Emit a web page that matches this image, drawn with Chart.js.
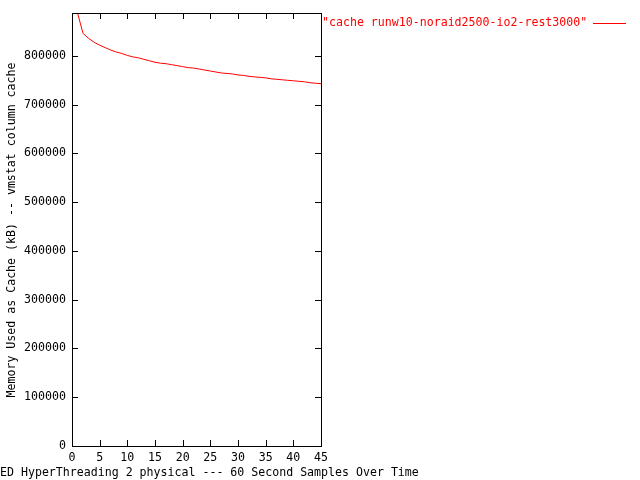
<!DOCTYPE html>
<html>
<head>
<meta charset="utf-8">
<script src="https://cdn.jsdelivr.net/npm/chart.js@4/dist/chart.umd.min.js"></script>
<style>
  html, body { margin: 0; padding: 0; background: #fff; }
  #wrap { width: 640px; height: 480px; }
</style>
</head>
<body>
<div id="wrap"><canvas id="cache-chart" width="640" height="480"></canvas></div>
<script>
// samples (minute index) and vmstat cache values in kB
const samples = [1, 2, 3, 4, 5, 6, 7, 8, 9, 10, 11, 12, 13, 14, 15, 16, 17, 18, 19, 20, 21, 22, 23,
    24, 25, 26, 27, 28, 29, 30, 31, 32, 33, 34, 35, 36, 37, 38, 39, 40, 41, 42, 43, 44, 45];
const cacheValues = [888000, 846000, 836000, 828000, 822000, 817000, 812000, 808000, 805000, 801000,
    798000, 796000, 793000, 790000, 787000, 785000, 784000, 782000, 780000, 778000,
    776000, 775000, 773000, 771000, 769000, 767000, 765000, 764000, 763000, 761000,
    760000, 758000, 757000, 756000, 755000, 753000, 752000, 751000, 750000, 749000,
    748000, 747000, 745000, 744000, 743000];
const xTicks = [0, 5, 10, 15, 20, 25, 30, 35, 40, 45];
const yTicks = [0, 100000, 200000, 300000, 400000, 500000, 600000, 700000, 800000];
const seriesLabel = '"cache runw10-noraid2500-io2-rest3000"';
const xTitle = 'ED HyperThreading 2 physical --- 60 Second Samples Over Time';
const yTitle = 'Memory Used as Cache (kB) -- vmstat column cache';

const FONT = '11.6px "DejaVu Sans Mono", "Liberation Mono", monospace';

// gnuplot style frame, inward ticks on all sides, key and titles
const gnuplotFrame = {
    id: 'gnuplotFrame',
    afterDraw(chart) {
        const ctx = chart.ctx;
        const a = chart.chartArea;
        const xs = chart.scales.x;
        const ys = chart.scales.y;
        ctx.save();
        ctx.strokeStyle = '#000';
        ctx.lineWidth = 1;
        ctx.strokeRect(Math.round(a.left) + 0.5, Math.round(a.top) + 0.5,
            Math.round(a.right - a.left), Math.round(a.bottom - a.top));
        ctx.beginPath();
        xTicks.forEach(v => {
            const px = Math.round(xs.getPixelForValue(v)) + 0.5;
            ctx.moveTo(px, a.bottom); ctx.lineTo(px, a.bottom - 6);
            ctx.moveTo(px, a.top); ctx.lineTo(px, a.top + 6);
        });
        yTicks.forEach(v => {
            const py = Math.round(ys.getPixelForValue(v)) + 0.5;
            ctx.moveTo(a.left, py); ctx.lineTo(a.left + 6, py);
            ctx.moveTo(a.right, py); ctx.lineTo(a.right - 6, py);
        });
        ctx.stroke();

        ctx.font = FONT;
        ctx.textBaseline = 'middle';
        // key
        ctx.fillStyle = '#ff0000';
        ctx.textAlign = 'left';
        ctx.fillText(seriesLabel, 322, 23);
        ctx.strokeStyle = '#ff0000';
        ctx.beginPath();
        ctx.moveTo(593, 23.5); ctx.lineTo(626, 23.5);
        ctx.stroke();
        // x title
        ctx.fillStyle = '#000';
        ctx.fillText(xTitle, 0, 473);
        // y title
        ctx.translate(12, 230);
        ctx.rotate(-Math.PI / 2);
        ctx.textAlign = 'center';
        ctx.fillText(yTitle, 0, 0);
        ctx.restore();
    }
};

const ctx = document.getElementById('cache-chart').getContext('2d');
const cacheChart = new Chart(ctx, {
    type: 'line',
    data: {
        datasets: [{
            label: seriesLabel,
            data: samples.map((s, i) => ({ x: s, y: cacheValues[i] })),
            borderColor: '#ff0000',
            borderWidth: 1,
            pointRadius: 0,
            fill: false,
            tension: 0
        }]
    },
    options: {
        responsive: false,
        animation: false,
        layout: { padding: { left: 0, right: 319, top: 13, bottom: 0 } },
        scales: {
            x: {
                type: 'linear',
                min: 0,
                max: 45,
                afterBuildTicks: scale => { scale.ticks = xTicks.map(v => ({ value: v })); },
                afterFit: scale => { scale.height = 34; },
                grid: { display: false, drawTicks: false },
                border: { display: false },
                ticks: { color: '#000', font: { family: '"DejaVu Sans Mono"', size: 11.6 }, padding: 5, maxRotation: 0,
                    callback: v => String(v) }
            },
            y: {
                min: 0,
                max: 888000,
                afterBuildTicks: scale => { scale.ticks = yTicks.map(v => ({ value: v })); },
                afterFit: scale => { scale.width = 72; },
                grid: { display: false, drawTicks: false },
                border: { display: false },
                ticks: { color: '#000', font: { family: '"DejaVu Sans Mono"', size: 11.6 }, padding: 6,
                    callback: v => String(v) }
            }
        },
        plugins: {
            legend: { display: false },
            tooltip: { enabled: false }
        }
    },
    plugins: [gnuplotFrame]
});
</script>
</body>
</html>
